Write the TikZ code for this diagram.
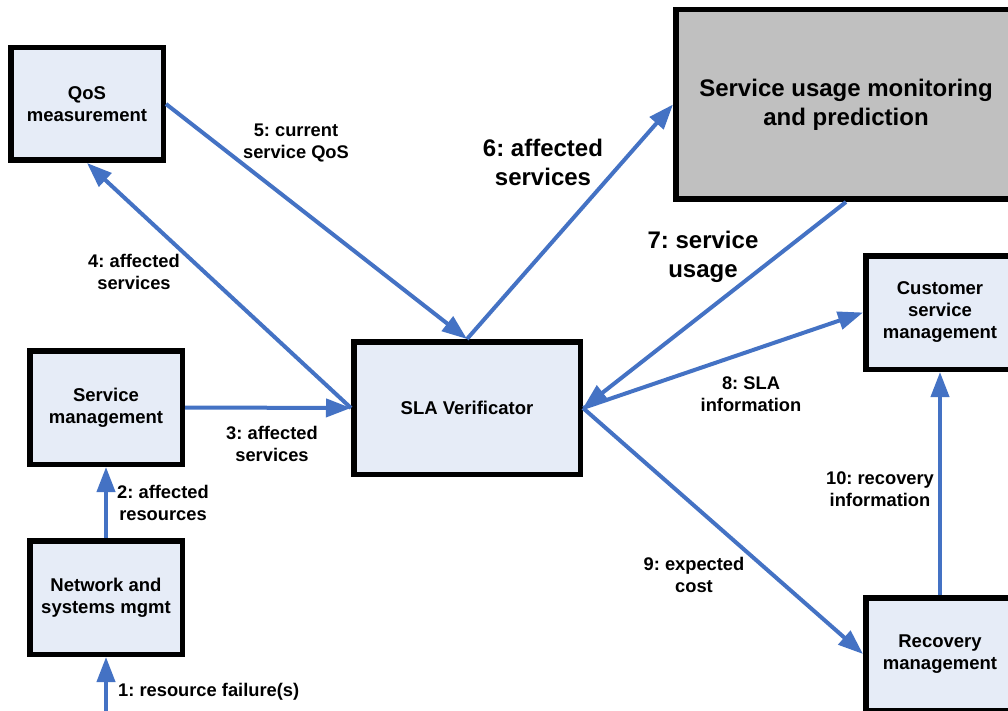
\documentclass[tikz,border=0pt]{standalone}
\usepackage{fontspec}
\setmainfont{Liberation Sans}
\usetikzlibrary{arrows.meta}
\definecolor{flow}{HTML}{4472C4}
\definecolor{boxfill}{HTML}{E6ECF7}
\definecolor{mainfill}{HTML}{C0C0C0}
\frenchspacing
\begin{document}
\begin{tikzpicture}[x=1pt,y=-1pt,
  comp/.style={draw=black, line width=5.5pt, fill=boxfill, inner sep=0pt,
    align=center, font=\fontsize{18.5}{22}\selectfont\bfseries},
  bigcomp/.style={comp, fill=mainfill, font=\fontsize{24}{29}\selectfont\bfseries},
  flowarrow/.style={draw=flow, line width=4pt, -{Triangle[length=25pt,width=18pt]}},
  lbl/.style={align=center, inner sep=0pt, font=\fontsize{18.3}{22}\selectfont\bfseries},
  biglbl/.style={lbl, font=\fontsize{24}{29}\selectfont\bfseries}]

% page frame
\clip (0,0) rectangle (1008,711);
\fill[white] (0,0) rectangle (1008,711);

% components
\node[comp, minimum width=152.5pt, minimum height=112.5pt] (qos) at (87,104) {QoS\\measurement};
\node[bigcomp, minimum width=340.5pt, minimum height=189.5pt] (sum) at (846,104.5) {Service usage monitoring\\and prediction};
\node[comp, minimum width=152.5pt, minimum height=113.5pt] (sm) at (106,407.5) {Service\\management};
\node[comp, minimum width=226.5pt, minimum height=132.5pt] (sla) at (467,408) {SLA Verificator};
\node[comp, minimum width=148.5pt, minimum height=113.5pt] (csm) at (940,312.5) {Customer\\service\\management};
\node[comp, minimum width=152.5pt, minimum height=113.5pt] (nsm) at (106,597.5) {Network and\\systems mgmt};
\node[comp, minimum width=148.5pt, minimum height=112.5pt] (rm) at (940,654) {Recovery\\management};

% incoming failure notification
\coordinate (fail) at (106,716);

% message flows
\draw[flowarrow] (fail) -- (nsm.south);
\draw[flowarrow] (nsm.north) -- (sm.south);
\draw[flowarrow] (sm.east) -- (sla.west);
\draw[flowarrow] (sla.west) -- (qos.south);
\draw[flowarrow] (qos.east) -- (sla.north);
\draw[flowarrow] (sla.north) -- (sum.west);
\draw[flowarrow] (sum.south) -- (sla.east);
\draw[flowarrow] (sla.east) -- (csm.west);
\draw[flowarrow] (sla.east) -- (rm.west);
\draw[flowarrow] (rm.north) -- (csm.south);

% flow labels
\node[lbl, anchor=west] (l1) at (118,692) {1: resource failure(s)};
\node[lbl] (l2) at (163,503) {2: affected\\resources};
\node[lbl] (l3) at (272,444) {3: affected\\services};
\node[lbl] (l4) at (134,272) {4: affected\\services};
\node[lbl] (l5) at (296,143) {5: current\\service QoS};
\node[biglbl] (l6) at (543,162) {6: affected\\services};
\node[biglbl] (l7) at (703,257) {7: service\\usage};
\node[lbl] (l8) at (751,394) {8: SLA\\information};
\node[lbl] (l9) at (694,575) {9: expected\\cost};
\node[lbl] (l10) at (880,489) {10: recovery\\information};
\end{tikzpicture}
\end{document}
